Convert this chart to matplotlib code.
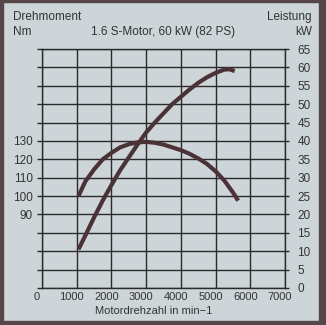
import matplotlib
matplotlib.use("Agg")
import matplotlib.pyplot as plt
import matplotlib.transforms as mtransforms
from matplotlib.patches import Rectangle

plt.rcParams['font.family'] = ['Liberation Sans', 'DejaVu Sans']

# ---- data ----
rpm_torque = [1050, 1250, 1500, 1750, 2000, 2250, 2500, 2750, 3000, 3250, 3500,
              3750, 4000, 4250, 4500, 4750, 5000, 5250, 5500, 5650]
torque_nm = [100, 108, 114.5, 120, 123.5, 126.5, 128.2, 129.2, 129.5, 129, 128,
             126.5, 125, 123, 120.5, 117.5, 113.5, 108.5, 102, 97.5]

rpm_power = [1050, 1250, 1500, 1750, 2000, 2250, 2500, 2750, 3000, 3250, 3500,
             3750, 4000, 4250, 4500, 4750, 5000, 5250, 5400, 5550]
power_kw = [10.5, 14.3, 19.2, 23.8, 28, 32, 35.5, 39, 42.3, 45, 47.5,
            50, 52, 54, 55.8, 57.3, 58.5, 59.4, 59.5, 59.0]

x_ticks = [0, 1000, 2000, 3000, 4000, 5000, 6000, 7000]
kw_ticks = list(range(0, 70, 5))
nm_ticks = list(range(50, 190, 10))
nm_labeled = [90, 100, 110, 120, 130]

title = "1.6 S-Motor, 60 kW (82 PS)"
xlabel = "Motordrehzahl in min\u22121"

# ---- style ----
W, H = 326, 325
bg = '#cdd5d8'
frame = '#564649'
ink = '#2a2a2a'
txt = '#333333'
curve = '#4b3236'

fig = plt.figure(figsize=(W / 100, H / 100), dpi=100, facecolor=bg)

# frame
fig.patches.append(Rectangle((0, 0), 3 / W, 1, transform=fig.transFigure, color=frame, zorder=0))
fig.patches.append(Rectangle((0, 1 - 2 / H), 1, 2 / H, transform=fig.transFigure, color=frame, zorder=0))
fig.patches.append(Rectangle((1 - 7 / W, 0), 7 / W, 1, transform=fig.transFigure, color=frame, zorder=0))
fig.patches.append(Rectangle((0, 0), 1, 4 / H, transform=fig.transFigure, color=frame, zorder=0))

left, right, top, bottom = 42, 285, 49, 288
ax = fig.add_axes([left / W, (H - bottom) / H, (right - left) / W, (bottom - top) / H])
ax.set_facecolor('none')
ax.set_xlim(0, 7000)
ax.set_ylim(0, 65)
ax.set_xticks(x_ticks)
ax.set_yticks(kw_ticks)
ax.grid(True, color=ink, lw=1.0)
for s in ax.spines.values():
    s.set_color(ink)
    s.set_linewidth(1.0)

ax2 = ax.twinx()
ax2.set_ylim(50, 180)
ax2.set_yticks(nm_ticks)
ax2.set_yticklabels([str(v) if v in nm_labeled else '' for v in nm_ticks])
ax2.yaxis.tick_left()
ax2.tick_params(axis='y', length=3.6, width=1.0, color=ink, pad=3,
                labelsize=8.5, labelcolor=txt)
for s in ax2.spines.values():
    s.set_visible(False)

ax.yaxis.tick_right()
ax.tick_params(axis='y', which='both', left=False, labelleft=False, right=True,
               labelright=True, length=3, width=1.0, color=ink, pad=6,
               labelsize=8.5, labelcolor=txt)
ax.tick_params(axis='x', length=0, pad=3, labelsize=8, labelcolor=txt)
off = mtransforms.ScaledTranslation(-5 / 100, 0, fig.dpi_scale_trans)
for lab in ax.get_xticklabels():
    lab.set_transform(lab.get_transform() + off)

ax.plot(rpm_power, power_kw, color=curve, lw=3.0, solid_capstyle='butt', zorder=5)
ax2.plot(rpm_torque, torque_nm, color=curve, lw=3.0, solid_capstyle='butt', zorder=5)

def ftext(x, y, s, ha='left', size=8.5):
    fig.text(x / W, 1 - y / H, s, ha=ha, va='center', fontsize=size, color=txt)

ftext(13, 17, "Drehmoment")
ftext(13, 32, "Nm")
ftext(312, 17, "Leistung", ha='right')
ftext(312, 32, "kW", ha='right')
ftext(163, 32, title, ha='center')
ftext(154, 311, xlabel, ha='center', size=8)

fig.savefig('out.png', dpi=100, facecolor=bg)
